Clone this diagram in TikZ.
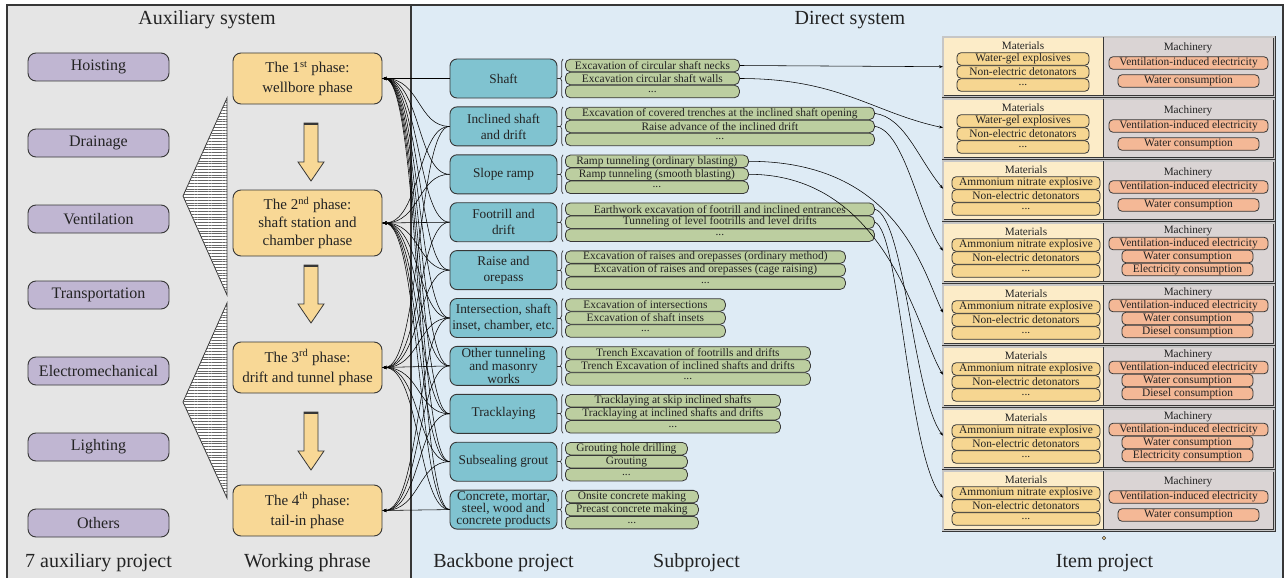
\documentclass[tikz,border=0pt]{standalone}
\usepackage{fontspec}
\setmainfont{Liberation Serif}
\usetikzlibrary{arrows.meta,decorations.pathreplacing,patterns.meta}

\definecolor{auxpanel}{RGB}{229,229,229}
\definecolor{dirpanel}{RGB}{222,235,245}
\definecolor{auxfill}{RGB}{192,182,210}
\definecolor{phasefill}{RGB}{248,216,150}
\definecolor{bonefill}{RGB}{128,195,208}
\definecolor{subfill}{RGB}{188,206,160}
\definecolor{matpanel}{RGB}{252,236,200}
\definecolor{matfill}{RGB}{246,214,145}
\definecolor{machpanel}{RGB}{218,212,212}
\definecolor{machfill}{RGB}{244,184,150}
\definecolor{edge}{RGB}{55,55,55}
\definecolor{ink}{RGB}{35,35,35}

\begin{document}
\begin{tikzpicture}[x=1pt,y=-1pt,
  every node/.style={text=ink,inner sep=0pt},
  aux/.style={draw=edge,line width=0.9pt,fill=auxfill,rounded corners=8pt,minimum width=141pt,minimum height=28pt,font=\fontsize{16}{19}\selectfont},
  phase/.style={draw=edge,line width=0.9pt,fill=phasefill,rounded corners=8pt,minimum width=149pt,minimum height=51pt,align=center,font=\fontsize{15}{20}\selectfont},
  bone/.style={draw=edge,line width=0.9pt,fill=bonefill,rounded corners=7pt,minimum width=107pt,minimum height=39pt,align=center,font=\fontsize{13.3}{16}\selectfont},
  sub/.style={draw=edge,line width=0.8pt,fill=subfill,rounded corners=5pt,minimum height=12.5pt,anchor=west,font=\fontsize{11.4}{11.4}\selectfont},
  matbar/.style={draw=edge,line width=0.8pt,fill=matfill,rounded corners=4pt,minimum height=12.5pt,font=\fontsize{11.4}{11.4}\selectfont},
  machbar/.style={draw=edge,line width=0.8pt,fill=machfill,rounded corners=4pt,minimum height=12.5pt,font=\fontsize{11.4}{11.4}\selectfont},
  matbox/.style={fill=matpanel,minimum width=160pt,minimum height=59pt,anchor=north west},
  machbox/.style={fill=machpanel,minimum width=171pt,minimum height=59pt,anchor=north west},
  boxhead/.style={font=\fontsize{11.2}{11.2}\selectfont},
  boxframe/.style={draw=edge,line width=0.9pt,double=gray!45,double distance=1.1pt},
  caption/.style={font=\fontsize{20}{24}\selectfont,anchor=base},
  frame/.style={draw=edge,line width=1.2pt},
  flow/.style={draw=edge,line width=0.8pt,fill=phasefill},
  hatch/.style={draw=edge,line width=0.8pt,fill=white,postaction={pattern={Lines[angle=0,distance=2.8pt,line width=0.45pt]},pattern color=black!60}},
  wire/.style={{Stealth[length=4pt,width=3pt]}-,line width=0.55pt},
  feed/.style={-{Stealth[length=4pt,width=3pt]},line width=0.55pt},
  tie/.style={draw=edge,line width=0.8pt},
  brace/.style={draw=edge,line width=0.7pt,decorate,decoration={brace,amplitude=2.5pt}}]

\useasboundingbox (0,0) rectangle (1288,578);

% panels
\fill[auxpanel] (7,5) rectangle (411,578);
\fill[dirpanel] (411,5) rectangle (1283,578);
\draw[frame] (7,578) -- (7,5) -- (1283,5) -- (1283,578);
\draw[frame] (411,5) -- (411,578);

\node[caption] (ta) at (207,25) {Auxiliary system};
\node[caption] (td) at (850,25) {Direct system};
\node[caption] (la) at (98.5,567) {7 auxiliary project};
\node[caption] (lw) at (307.5,567) {Working phrase};
\node[caption] (lb) at (503.5,567) {Backbone project};
\node[caption] (ls) at (696.5,567) {Subproject};
\node[caption] (li) at (1104.5,567) {Item project};

% auxiliary projects
\node[aux] (h1) at (98.5,67) {Hoisting};
\node[aux] (h2) at (98.5,143) {Drainage};
\node[aux] (h3) at (98.5,219) {Ventilation};
\node[aux] (h4) at (98.5,295) {Transportation};
\node[aux] (h5) at (98.5,371) {Electromechanical};
\node[aux] (h6) at (98.5,447) {Lighting};
\node[aux] (h7) at (98.5,523) {Others};

\draw[hatch] (227,98) -- (183,196) -- (227,295) -- cycle;
\draw[hatch] (227,303) -- (183,402) -- (227,498) -- cycle;

% working phases
\node[phase] (p1) at (307.5,78.5) {The 1\textsuperscript{st} phase:\\wellbore phase};
\node[phase,minimum height=66pt,font=\fontsize{15}{18}\selectfont] (p2) at (307.5,223) {The 2\textsuperscript{nd} phase:\\shaft station and\\chamber phase};
\node[phase] (p3) at (307.5,367.5) {The 3\textsuperscript{rd} phase:\\drift and tunnel phase};
\node[phase] (p4) at (307.5,510.5) {The 4\textsuperscript{th} phase:\\tail-in phase};

\foreach \t in {123,265,412}{
  \draw[flow] (304,\t) -- (318,\t) -- (318,\t+39) -- (324,\t+39) -- (311,\t+58) -- (298,\t+39) -- (304,\t+39) -- cycle;
  \draw[edge,line width=2.5pt] (304,\t+1.2) -- (318,\t+1.2);
}

% backbone projects
\node[bone] (b1) at (503.5,78.5) {Shaft};
\node[bone] (b2) at (503.5,126.4) {Inclined shaft\\and drift};
\node[bone] (b3) at (503.5,174.3) {Slope ramp};
\node[bone] (b4) at (503.5,222.2) {Footrill and\\drift};
\node[bone] (b5) at (503.5,270.1) {Raise and\\orepass};
\node[bone] (b6) at (503.5,318) {Intersection, shaft\\inset, chamber, etc.};
\node[bone,font=\fontsize{13.3}{12}\selectfont] (b7) at (503.5,365.9) {Other tunneling\\and masonry\\works};
\node[bone] (b8) at (503.5,413.8) {Tracklaying};
\node[bone] (b9) at (503.5,461.7) {Subsealing grout};
\node[bone,font=\fontsize{13.3}{12}\selectfont] (b10) at (503.5,509.6) {Concrete, mortar,\\steel, wood and\\concrete products};

% subprojects
\node[sub,minimum width=174pt] (s1a) at (565,65.5) {Excavation of circular shaft necks};
\node[sub,minimum width=174pt] (s1b) at (565,78.5) {Excavation circular shaft walls};
\node[sub,minimum width=174pt] (s1c) at (565,91.5) {...};
\node[sub,minimum width=309pt] (s2a) at (565,113.4) {Excavation of covered trenches at the inclined shaft opening};
\node[sub,minimum width=309pt] (s2b) at (565,126.4) {Raise advance of the inclined drift};
\node[sub,minimum width=309pt] (s2c) at (565,139.4) {...};
\node[sub,minimum width=183pt] (s3a) at (565,161.3) {Ramp tunneling (ordinary blasting)};
\node[sub,minimum width=183pt] (s3b) at (565,174.3) {Ramp tunneling (smooth blasting)};
\node[sub,minimum width=183pt] (s3c) at (565,187.3) {...};
\node[sub,minimum width=309pt] (s4a) at (565,209.2) {Earthwork excavation of footrill and inclined entrances};
\node[sub,minimum width=309pt] (s4b) at (565,222.2) {Tunneling of level footrills and level drifts};
\node[sub,minimum width=309pt] (s4c) at (565,235.2) {...};
\node[sub,minimum width=280pt] (s5a) at (565,257.1) {Excavation of raises and orepasses (ordinary method)};
\node[sub,minimum width=280pt] (s5b) at (565,270.1) {Excavation of raises and orepasses (cage raising)};
\node[sub,minimum width=280pt] (s5c) at (565,283.1) {...};
\node[sub,minimum width=160pt] (s6a) at (565,305) {Excavation of intersections};
\node[sub,minimum width=160pt] (s6b) at (565,318) {Excavation of shaft insets};
\node[sub,minimum width=160pt] (s6c) at (565,331) {...};
\node[sub,minimum width=245pt] (s7a) at (565,352.9) {Trench Excavation of footrills and drifts};
\node[sub,minimum width=245pt] (s7b) at (565,365.9) {Trench Excavation of inclined shafts and drifts};
\node[sub,minimum width=245pt] (s7c) at (565,378.9) {...};
\node[sub,minimum width=215pt] (s8a) at (565,400.8) {Tracklaying at skip inclined shafts};
\node[sub,minimum width=215pt] (s8b) at (565,413.8) {Tracklaying at inclined shafts and drifts};
\node[sub,minimum width=215pt] (s8c) at (565,426.8) {...};
\node[sub,minimum width=122pt] (s9a) at (565,448.7) {Grouting hole drilling};
\node[sub,minimum width=122pt] (s9b) at (565,461.7) {Grouting};
\node[sub,minimum width=122pt] (s9c) at (565,474.7) {...};
\node[sub,minimum width=133pt] (s10a) at (565,496.6) {Onsite concrete making};
\node[sub,minimum width=133pt] (s10b) at (565,509.6) {Precast concrete making};
\node[sub,minimum width=133pt] (s10c) at (565,522.6) {...};

\foreach \i/\c in {1/78.5,2/126.4,3/174.3,4/222.2,5/270.1,6/318,7/365.9,8/413.8,9/461.7,10/509.6}{
  \draw[tie] (b\i.east) -- (560.5,\c);
  \draw[brace] (563,\c+19.5) -- (563,\c-19.5);
}

% item projects
\node[matbox] (m1) at (943,37) {};
\node[machbox] (c1) at (1103,37) {};
\node[matbox] (m2) at (943,99) {};
\node[machbox] (c2) at (1103,99) {};
\node[matbox] (m3) at (943,161) {};
\node[machbox] (c3) at (1103,161) {};
\node[matbox] (m4) at (943,223) {};
\node[machbox] (c4) at (1103,223) {};
\node[matbox] (m5) at (943,285) {};
\node[machbox] (c5) at (1103,285) {};
\node[matbox] (m6) at (943,347) {};
\node[machbox] (c6) at (1103,347) {};
\node[matbox] (m7) at (943,409) {};
\node[machbox] (c7) at (1103,409) {};
\node[matbox] (m8) at (943,471) {};
\node[machbox] (c8) at (1103,471) {};
\foreach \k in {1,...,8}{
  \draw[boxframe] (m\k.north west) rectangle (c\k.south east);
  \draw[tie] (c\k.north west) -- (c\k.south west);
}

\node[boxhead] (mh1) at (1023,46) {Materials};
\node[matbar,minimum width=132pt] (m1a) at (1023,59) {Water-gel explosives};
\node[matbar,minimum width=132pt] (m1b) at (1023,72) {Non-electric detonators};
\node[matbar,minimum width=132pt] (m1c) at (1023,85) {...};
\node[boxhead] (ch1) at (1188,48) {Machinery};
\node[machbar,minimum width=159pt] (c1a) at (1188.5,63) {Ventilation-induced electricity};
\node[machbar,minimum width=141pt] (c1b) at (1188.5,81) {Water consumption};

\node[boxhead] (mh2) at (1023,108) {Materials};
\node[matbar,minimum width=132pt] (m2a) at (1023,121) {Water-gel explosives};
\node[matbar,minimum width=132pt] (m2b) at (1023,134) {Non-electric detonators};
\node[matbar,minimum width=132pt] (m2c) at (1023,147) {...};
\node[boxhead] (ch2) at (1188,111) {Machinery};
\node[machbar,minimum width=159pt] (c2a) at (1188.5,126) {Ventilation-induced electricity};
\node[machbar,minimum width=141pt] (c2b) at (1188.5,144) {Water consumption};

\node[boxhead] (mh3) at (1026,170) {Materials};
\node[matbar,minimum width=148pt] (m3a) at (1026,183) {Ammonium nitrate explosive};
\node[matbar,minimum width=148pt] (m3b) at (1026,196) {Non-electric detonators};
\node[matbar,minimum width=148pt] (m3c) at (1026,209) {...};
\node[boxhead] (ch3) at (1188,173) {Machinery};
\node[machbar,minimum width=159pt] (c3a) at (1188.5,187) {Ventilation-induced electricity};
\node[machbar,minimum width=141pt] (c3b) at (1188.5,205) {Water consumption};

\node[boxhead] (mh4) at (1026,232) {Materials};
\node[matbar,minimum width=148pt] (m4a) at (1026,245) {Ammonium nitrate explosive};
\node[matbar,minimum width=148pt] (m4b) at (1026,258) {Non-electric detonators};
\node[matbar,minimum width=148pt] (m4c) at (1026,271) {...};
\node[boxhead] (ch4) at (1188,230.5) {Machinery};
\node[machbar,minimum width=159pt] (c4a) at (1188.5,243.5) {Ventilation-induced electricity};
\node[machbar,minimum width=131pt] (c4b) at (1187.5,256.5) {Water consumption};
\node[machbar,minimum width=131pt] (c4c) at (1187.5,269.5) {Electricity consumption};

\node[boxhead] (mh5) at (1026,294) {Materials};
\node[matbar,minimum width=148pt] (m5a) at (1026,307) {Ammonium nitrate explosive};
\node[matbar,minimum width=148pt] (m5b) at (1026,320) {Non-electric detonators};
\node[matbar,minimum width=148pt] (m5c) at (1026,333) {...};
\node[boxhead] (ch5) at (1188,292.5) {Machinery};
\node[machbar,minimum width=159pt] (c5a) at (1188.5,305.5) {Ventilation-induced electricity};
\node[machbar,minimum width=131pt] (c5b) at (1187.5,318.5) {Water consumption};
\node[machbar,minimum width=131pt] (c5c) at (1187.5,331.5) {Diesel consumption};

\node[boxhead] (mh6) at (1026,356) {Materials};
\node[matbar,minimum width=148pt] (m6a) at (1026,369) {Ammonium nitrate explosive};
\node[matbar,minimum width=148pt] (m6b) at (1026,382) {Non-electric detonators};
\node[matbar,minimum width=148pt] (m6c) at (1026,395) {...};
\node[boxhead] (ch6) at (1188,354.5) {Machinery};
\node[machbar,minimum width=159pt] (c6a) at (1188.5,367.5) {Ventilation-induced electricity};
\node[machbar,minimum width=131pt] (c6b) at (1187.5,380.5) {Water consumption};
\node[machbar,minimum width=131pt] (c6c) at (1187.5,393.5) {Diesel consumption};

\node[boxhead] (mh7) at (1026,418) {Materials};
\node[matbar,minimum width=148pt] (m7a) at (1026,431) {Ammonium nitrate explosive};
\node[matbar,minimum width=148pt] (m7b) at (1026,444) {Non-electric detonators};
\node[matbar,minimum width=148pt] (m7c) at (1026,457) {...};
\node[boxhead] (ch7) at (1188,416.5) {Machinery};
\node[machbar,minimum width=159pt] (c7a) at (1188.5,429.5) {Ventilation-induced electricity};
\node[machbar,minimum width=131pt] (c7b) at (1187.5,442.5) {Water consumption};
\node[machbar,minimum width=131pt] (c7c) at (1187.5,455.5) {Electricity consumption};

\node[boxhead] (mh8) at (1026,480) {Materials};
\node[matbar,minimum width=148pt] (m8a) at (1026,493) {Ammonium nitrate explosive};
\node[matbar,minimum width=148pt] (m8b) at (1026,506) {Non-electric detonators};
\node[matbar,minimum width=148pt] (m8c) at (1026,519) {...};
\node[boxhead] (ch8) at (1188,482) {Machinery};
\node[machbar,minimum width=159pt] (c8a) at (1188.5,497) {Ventilation-induced electricity};
\node[machbar,minimum width=141pt] (c8b) at (1188.5,515) {Water consumption};

\node[circle,draw=edge,fill=phasefill,line width=0.5pt,minimum size=3.5pt] (dot) at (1104,538) {};

% phases to backbone projects
\draw[wire] (p1.east) -- (b1.west);
\foreach \i in {2,...,10}
  \draw[wire] (p1.east) .. controls +(38,0) and +(-32,0) .. (b\i.west);
\draw[wire] (p2.east) -- (b4.west);
\foreach \i in {2,3,5,6,7,8,9,10}
  \draw[wire] (p2.east) .. controls +(38,0) and +(-32,0) .. (b\i.west);
\draw[wire] (p3.east) -- (b7.west);
\foreach \i in {2,4,5,6,8,9,10}
  \draw[wire] (p3.east) .. controls +(38,0) and +(-32,0) .. (b\i.west);
\draw[wire] (p4.east) -- (b10.west);
\foreach \i in {6,7,8,9}
  \draw[wire] (p4.east) .. controls +(38,0) and +(-32,0) .. (b\i.west);

% subprojects to item projects
\draw[feed] (s1a.east) -- (m1.west);
\draw[feed] (s1b.east) .. controls +(100,0) and +(-70,-15) .. ([yshift=1pt]m2.west);
\draw[feed] (s2a.east) .. controls +(30,4) and +(-25,-30) .. ([yshift=2pt]m3.west);
\draw[feed] (s2b.east) .. controls +(30,4) and +(-25,-35) .. ([yshift=2pt]m4.west);
\draw[feed] (s3a.east) .. controls +(150,0) and +(-20,-40) .. ([yshift=2pt]m5.west);
\draw[feed] (s3b.east) .. controls +(140,0) and +(-25,-40) .. ([yshift=2pt]m6.west);
\draw[feed] (s4a.east) .. controls +(30,8) and +(-30,-40) .. ([yshift=3pt]m7.west);
\draw[feed] (s4b.east) .. controls +(25,8) and +(-35,-40) .. ([yshift=3pt]m8.west);
\end{tikzpicture}
\end{document}
